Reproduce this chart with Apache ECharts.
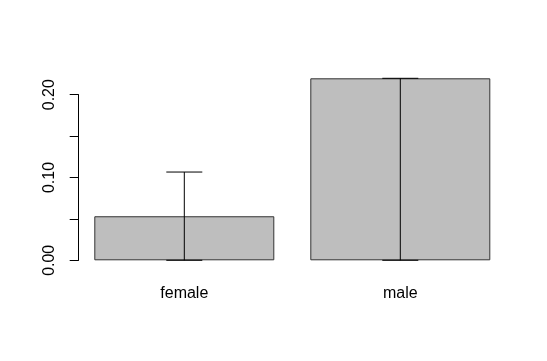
<!DOCTYPE html>
<html>
<head>
<meta charset="utf-8">
<script src="https://cdn.jsdelivr.net/npm/echarts@6/dist/echarts.min.js"></script>
<style>html,body{margin:0;padding:0;background:#fff}#c{width:547px;height:361px}</style>
</head>
<body>
<div id="c"></div>
<script>
const categories = ['female', 'male'];
const means = [0.0532, 0.2198];
const errLower = [0.0, 0.0];
const errUpper = [0.1066, 0.2198];
const yTicks = [0, 0.05, 0.10, 0.15, 0.20];

const chart = echarts.init(document.getElementById('c'));
const font = 'Liberation Sans, Arial, Helvetica, sans-serif';
chart.setOption({
  animation: false,
  backgroundColor: '#ffffff',
  grid: { left: 76.3, width: 432, top: 94.7, bottom: 100.7, containLabel: false },
  xAxis: {
    type: 'category',
    data: categories,
    axisLine: { show: false },
    axisTick: { show: false },
    axisLabel: { color: '#000', fontSize: 16, fontFamily: font, margin: 25 }
  },
  yAxis: {
    type: 'value',
    min: 0, max: 0.2, interval: 0.05,
    offset: -2.4,
    splitLine: { show: false },
    axisLine: { show: true, lineStyle: { color: '#000', width: 1 } },
    axisTick: { show: true, length: 9, lineStyle: { color: '#000', width: 1 } },
    axisLabel: {
      color: '#000', fontSize: 16, fontFamily: font, rotate: 90, margin: 21,
      formatter: function (v) {
        const i = yTicks.findIndex(t => Math.abs(t - v) < 1e-9);
        return (i % 2 === 0) ? v.toFixed(2) : '';
      }
    }
  },
  series: [
    {
      type: 'bar',
      data: means,
      barWidth: 180,
      clip: false,
      z: 2,
      itemStyle: { color: '#bebebe', borderColor: '#333', borderWidth: 1 }
    },
    {
      type: 'custom',
      clip: false,
      z: 10,
      data: categories.map((c, i) => [i, errLower[i], errUpper[i]]),
      renderItem: function (params, api) {
        const x = api.value(0);
        const lo = api.coord([x, api.value(1)]);
        const hi = api.coord([x, api.value(2)]);
        const hw = 18;
        const st = { stroke: '#000', lineWidth: 1 };
        return {
          type: 'group',
          children: [
            { type: 'line', shape: { x1: lo[0], y1: lo[1], x2: hi[0], y2: hi[1] }, style: st },
            { type: 'line', shape: { x1: lo[0] - hw, y1: lo[1], x2: lo[0] + hw, y2: lo[1] }, style: st },
            { type: 'line', shape: { x1: hi[0] - hw, y1: hi[1], x2: hi[0] + hw, y2: hi[1] }, style: st }
          ]
        };
      }
    }
  ]
});
</script>
</body>
</html>
